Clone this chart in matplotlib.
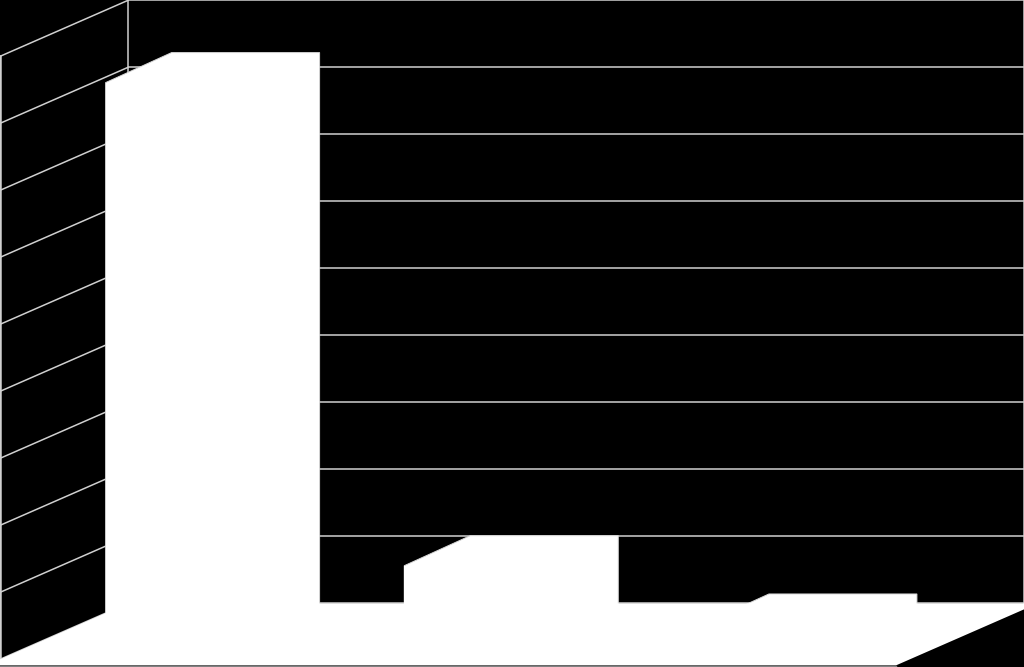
import matplotlib
matplotlib.use('Agg')
import matplotlib.pyplot as plt

# dados
categorias = [0, 1, 2]
valores = [82.2, 10.1, 1.4]
grade = [0, 10, 20, 30, 40, 50, 60, 70, 80, 90]

# geometria do 3D em unidades dos dados
largura = 0.4955
inicio = 0.146
prof_x = -0.4286    # parede esquerda
prof_y = -8.36
barra_dx = -0.221   # profundidade da barra
barra_dy = -4.48
espessura = 0.9

cor_grade = '#d0d0d0'

fig = plt.figure(figsize=(10.24, 6.67), dpi=100, facecolor='black')
ax = fig.add_axes([0, 0, 1, 1])
ax.set_xlim(prof_x, 3)
ax.set_ylim(-9.5, 90.05)
ax.axis('off')

# grade da parede do fundo e da parede lateral
ax.hlines(grade, 0, 3, color=cor_grade, lw=1.1, zorder=1)
for g in grade:
    ax.plot([0, prof_x], [g, g + prof_y], color=cor_grade, lw=1.1, zorder=1)
ax.plot([0, 0], [0, 90], color=cor_grade, lw=1.1, zorder=1)
ax.plot([prof_x, prof_x], [prof_y, 90 + prof_y], color=cor_grade, lw=1.8, zorder=1)
ax.plot([3, 3], [0, 90], color=cor_grade, lw=1.8, zorder=1)

# barras
for c, v in zip(categorias, valores):
    x0 = c + inicio
    # lateral + topo + face de fundo numa forma so
    ax.fill([x0 + barra_dx, x0, x0 + largura, x0 + largura, x0 + barra_dx],
            [v + barra_dy, v, v, barra_dy, barra_dy],
            facecolor='white', edgecolor='#d8d8d8', lw=0.7, zorder=4)
ax.bar([c + inicio + barra_dx for c in categorias],
       valores, largura, bottom=barra_dy, align='edge', color='white', lw=0, zorder=5)

# piso por cima da borda das barras
ax.fill([prof_x, 0, 3, 3, 3 + prof_x, prof_x],
        [prof_y, 0, 0, -espessura, prof_y - espessura, prof_y - espessura],
        color='white', lw=0, zorder=6)
ax.plot([prof_x, 3 + prof_x], [-9.4, -9.4], color='#808080', lw=1.0, zorder=7)

fig.savefig('out.png', dpi=100, facecolor='black')
